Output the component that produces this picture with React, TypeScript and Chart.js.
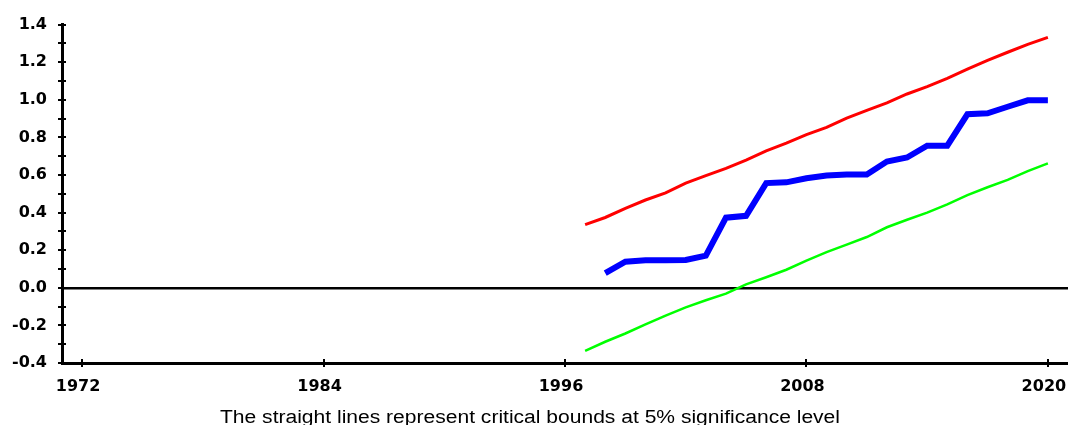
import React, { useEffect, useRef } from 'react';
import { Chart, registerables } from 'chart.js';

Chart.register(...registerables);

const years = [1997, 1998, 1999, 2000, 2001, 2002, 2003, 2004, 2005, 2006, 2007, 2008, 2009, 2010, 2011, 2012, 2013, 2014, 2015, 2016, 2017, 2018, 2019, 2020];
const cusumSq = [null, 0.078, 0.139, 0.146, 0.146, 0.148, 0.171, 0.373, 0.383, 0.557, 0.561, 0.583, 0.597, 0.603, 0.603, 0.672, 0.693, 0.756, 0.756, 0.923, 0.928, 0.963, 0.997, 0.997];
const upperBound = [0.336, 0.374, 0.423, 0.467, 0.505, 0.557, 0.597, 0.635, 0.679, 0.728, 0.770, 0.815, 0.853, 0.902, 0.944, 0.984, 1.031, 1.070, 1.114, 1.163, 1.210, 1.253, 1.295, 1.332];
const lowerBound = [-0.336, -0.287, -0.243, -0.195, -0.148, -0.104, -0.066, -0.031, 0.018, 0.056, 0.096, 0.145, 0.190, 0.230, 0.270, 0.322, 0.362, 0.400, 0.444, 0.493, 0.535, 0.574, 0.621, 0.662];

const xTickYears = [1972, 1984, 1996, 2008, 2020];
const yTickValues = [-0.4, -0.3, -0.2, -0.1, 0, 0.1, 0.2, 0.3, 0.4, 0.5, 0.6, 0.7, 0.8, 0.9, 1.0, 1.1, 1.2, 1.3, 1.4];
const caption = 'The straight lines represent critical bounds at 5% significance level';

const toPoints = (vals: (number | null)[]) => years.map((y, i) => ({ x: y, y: vals[i] }));

const axisExtras = {
  id: 'axisExtras',
  afterDraw(chart: any) {
    const { ctx, chartArea, scales } = chart;
    ctx.save();
    ctx.strokeStyle = '#000';
    ctx.lineWidth = 2;
    scales.y.ticks.forEach((t: any) => {
      const py = Math.round(scales.y.getPixelForValue(t.value));
      ctx.beginPath();
      ctx.moveTo(chartArea.left - 4, py);
      ctx.lineTo(chartArea.left + 4, py);
      ctx.stroke();
    });
    scales.x.ticks.forEach((t: any) => {
      const px = Math.round(scales.x.getPixelForValue(t.value));
      ctx.beginPath();
      ctx.moveTo(px, chartArea.bottom - 4);
      ctx.lineTo(px, chartArea.bottom + 4);
      ctx.stroke();
    });
    ctx.fillStyle = '#000';
    ctx.font = '18px "Liberation Sans", Arial, sans-serif';
    const w = ctx.measureText(caption).width;
    ctx.translate(530, chart.height - 2);
    ctx.scale(620 / w, 1);
    ctx.textAlign = 'center';
    ctx.textBaseline = 'alphabetic';
    ctx.fillText(caption, 0, 0);
    ctx.restore();
  },
};

export default function App() {
  const ref = useRef<HTMLCanvasElement | null>(null);
  useEffect(() => {
    if (!ref.current) return;
    const tickFont = { family: '"DejaVu Sans", sans-serif', size: 16, weight: 'bold' as const };
    const chart = new Chart(ref.current, {
      type: 'line',
      data: {
        datasets: [
          { label: 'CUSUM of Squares', data: toPoints(cusumSq), borderColor: '#0000FF', borderWidth: 6, pointRadius: 0, fill: false, tension: 0, spanGaps: false, order: 0 },
          { label: 'Upper 5% bound', data: toPoints(upperBound), borderColor: '#FF0000', borderWidth: 3, pointRadius: 0, fill: false, tension: 0, order: 1 },
          { label: 'Lower 5% bound', data: toPoints(lowerBound), borderColor: '#00FF00', borderWidth: 2.5, pointRadius: 0, fill: false, tension: 0, order: 2 },
        ],
      },
      options: {
        animation: false,
        responsive: true,
        maintainAspectRatio: false,
        layout: { padding: { top: 19, right: 0, bottom: 0, left: 0 } },
        plugins: { legend: { display: false }, tooltip: { enabled: false }, title: { display: false } },
        scales: {
          x: {
            type: 'linear',
            min: 1971,
            max: 2021,
            afterBuildTicks: (scale: any) => { scale.ticks = xTickYears.map((v) => ({ value: v })); },
            afterFit: (scale: any) => { scale.height = 62; scale.paddingLeft = 0; scale.paddingRight = 0; },
            grid: { display: false, drawTicks: false },
            border: { display: true, color: '#000', width: 3 },
            ticks: { autoSkip: false, maxRotation: 0, padding: 14, labelOffset: -4, color: '#000', font: tickFont, callback: (v: any) => String(v) },
          },
          y: {
            type: 'linear',
            min: -0.4,
            max: 1.4,
            afterBuildTicks: (scale: any) => { scale.ticks = yTickValues.map((v) => ({ value: v })); },
            afterFit: (scale: any) => { scale.width = 62; },
            grid: {
              display: true,
              drawTicks: false,
              color: (c: any) => (c.tick && c.tick.value === 0 ? '#000' : 'rgba(0,0,0,0)'),
              lineWidth: (c: any) => (c.tick && c.tick.value === 0 ? 2.5 : 1),
            },
            border: { display: true, color: '#000', width: 3 },
            ticks: {
              autoSkip: false,
              padding: 15,
              color: '#000',
              font: tickFont,
              callback: (v: any) => (Math.round(Number(v) * 10) % 2 === 0 ? Number(v).toFixed(1) : ''),
            },
          },
        },
      },
      plugins: [axisExtras],
    });
    return () => chart.destroy();
  }, []);
  return (
    <div style={{ position: 'absolute', left: 0, top: 0, width: 1068, height: 425, background: '#fff' }}>
      <canvas ref={ref} />
    </div>
  );
}
